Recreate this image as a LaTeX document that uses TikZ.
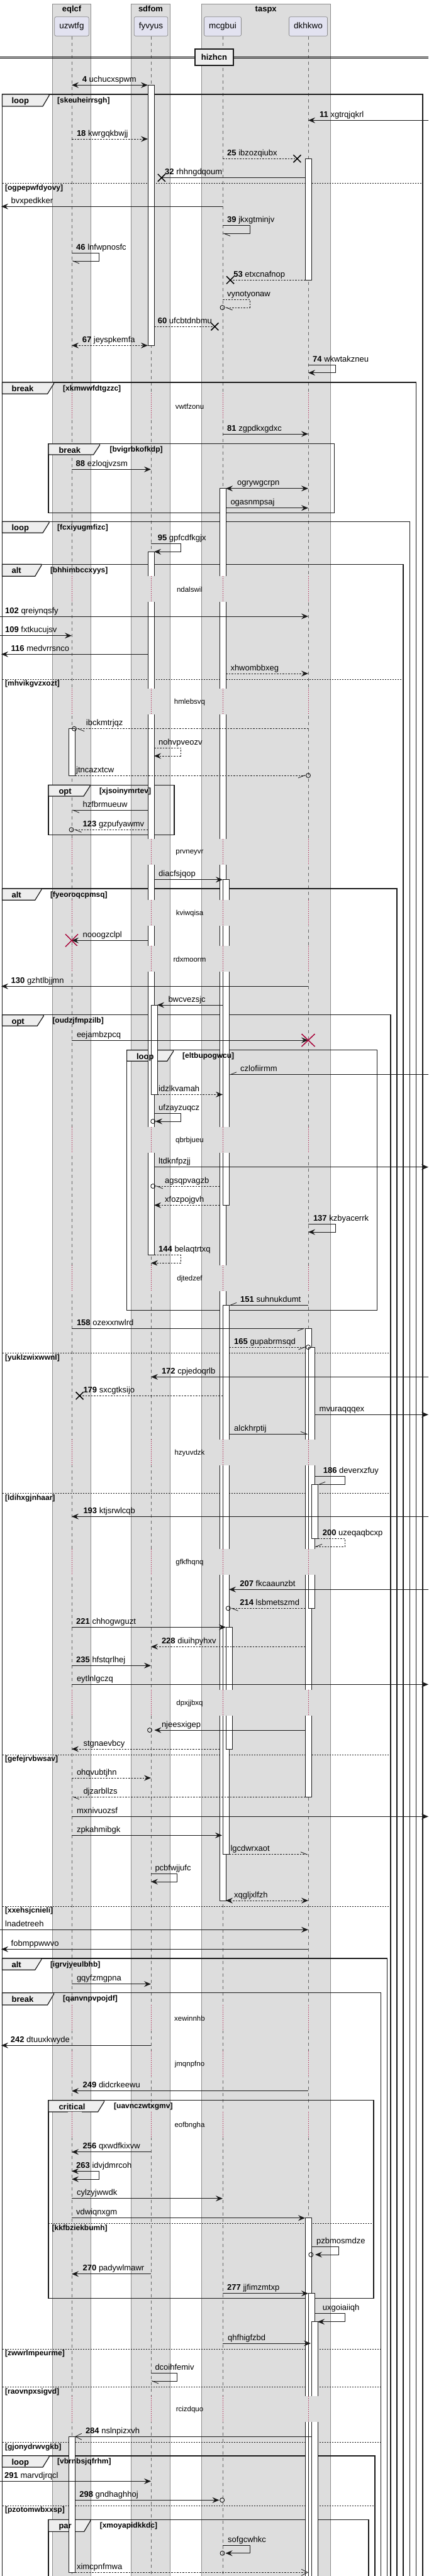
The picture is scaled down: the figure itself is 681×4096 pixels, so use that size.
\documentclass[tikz,border=0pt]{standalone}
\usepackage{fontspec}
\setmainfont{Liberation Sans}
\usepackage{tikz}
\usetikzlibrary{arrows.meta}
\usepackage{xcolor}
\definecolor{grpbg}{HTML}{DDDDDD}
\definecolor{partbg}{HTML}{E2E2F0}
\definecolor{tabbg}{HTML}{EEEEEE}
\definecolor{dstr}{HTML}{A80036}

\begin{document}
\begin{tikzpicture}[x=1pt,y=-1pt,>={Stealth[length=11pt,width=9pt,inset=4pt]},
  hA/.tip={Straight Barb[harpoon,length=10pt,width=8pt]},
  hB/.tip={Straight Barb[harpoon,swap,length=10pt,width=8pt]},
  ov/.tip={Straight Barb[length=10pt,width=10pt]},
  grp/.style={fill=grpbg,draw=black!45,line width=0.7pt},
  gttl/.style={anchor=base,inner sep=0pt,font=\bfseries\fontsize{13}{15}\selectfont},
  part/.style={fill=partbg,draw=black!45,line width=0.7pt,rounded corners=2.5pt,inner xsep=7.7pt,minimum height=30.6pt,text height=9.8pt,text depth=2.8pt,font=\fontsize{13.5}{16}\selectfont},
  divb/.style={fill=tabbg,draw=black!90,line width=1.5pt,minimum width=61pt,minimum height=26pt,inner sep=0pt,font=\bfseries\fontsize{13}{15}\selectfont},
  life/.style={draw=black!60,line width=0.5pt,dash pattern=on 5pt off 5pt},
  gap/.style={draw=dstr,line width=0.6pt,dash pattern=on 1pt off 2pt},
  act/.style={fill=white,draw=black!90,line width=0.7pt},
  msg/.style={draw=black!90,line width=0.8pt},
  dsh/.style={msg,dash pattern=on 2.5pt off 2pt},
  frm/.style={draw=black!90,line width=1.5pt},
  tab/.style={fill=tabbg,draw=black!90,line width=1.2pt},
  els/.style={draw=black!90,line width=0.6pt,dash pattern=on 2pt off 2pt},
  kw/.style={anchor=base west,inner sep=0pt,font=\bfseries\fontsize{13}{15}\selectfont},
  grd/.style={anchor=base west,inner sep=0pt,font=\bfseries\fontsize{12}{14}\selectfont},
  lbl/.style={anchor=base west,inner sep=0pt,font=\fontsize{13}{15}\selectfont},
  dly/.style={inner sep=0pt,font=\fontsize{11.5}{13}\selectfont},
  xmk/.style={draw=black,line width=1.5pt},
  kill/.style={draw=dstr,line width=1.5pt},
  cir/.style={draw=black,line width=0.8pt}]
\useasboundingbox (0,0) rectangle (681,4096);
\clip (0,0) rectangle (681,4096);

% participant boxes
\draw[grp] (83.3,6) rectangle (144.6,4110);
\draw[grp] (208.2,6) rectangle (270.8,4110);
\draw[grp] (320.3,6) rectangle (525,4110);
\node[gttl] (eqlcf) at (114,18) {eqlcf};
\node[gttl] (sdfom) at (239.5,18) {sdfom};
\node[gttl] (taspx) at (422.7,18) {taspx};
\node[part] (uzwtfg) at (114,42) {uzwtfg};
\node[part] (fyvyus) at (240,42) {fyvyus};
\node[part] (mcgbui) at (354,42) {mcgbui};
\node[part] (dkhkwo) at (490,42) {dkhkwo};
\foreach \p in {uzwtfg,fyvyus,mcgbui,dkhkwo}
  \draw[life] (\p.south) -- ++(0,4060);

% divider
\draw[line width=0.9pt] (0,90) -- (681,90) (0,92.7) -- (681,92.7);
\node[divb] (hizhcn) at (340.5,91) {hizhcn};

% frames
\draw[frm] (3.5,4110) -- (3.5,150) -- (672,150) -- (672,4110);
\draw[tab] (3.5,150) -- (78,150) -- (78,152) -- (68,169) -- (3.5,169) -- cycle;
\draw[els] (3.5,291.7) -- (672,291.7);
\draw[frm] (3.5,4110) -- (3.5,608) -- (661.7,608) -- (661.7,4110);
\draw[tab] (3.5,608) -- (85.5,608) -- (85.5,610) -- (75.5,626.3) -- (3.5,626.3) -- cycle;
\draw[frm] (77,705.7) rectangle (531.5,815.3);
\draw[tab] (77,705.7) -- (158.6,705.7) -- (158.6,707.7) -- (148.6,723) -- (77,723) -- cycle;
\draw[frm] (3.5,4110) -- (3.5,829.3) -- (651.6,829.3) -- (651.6,4110);
\draw[tab] (3.5,829.3) -- (78,829.3) -- (78,831.3) -- (68,847.3) -- (3.5,847.3) -- cycle;
\draw[frm] (3.5,4110) -- (3.5,897.3) -- (641,897.3) -- (641,4110);
\draw[tab] (3.5,897.3) -- (65.7,897.3) -- (65.7,899.3) -- (55.7,916.3) -- (3.5,916.3) -- cycle;
\draw[els] (3.5,1080) -- (641,1080);
\draw[frm] (77,1248.3) rectangle (277,1327.7);
\draw[tab] (77,1248.3) -- (142.9,1248.3) -- (142.9,1250.3) -- (132.9,1266) -- (77,1266) -- cycle;
\draw[frm] (3.5,4110) -- (3.5,1413) -- (631,1413) -- (631,4110);
\draw[tab] (3.5,1413) -- (65.7,1413) -- (65.7,1415) -- (55.7,1431.3) -- (3.5,1431.3) -- cycle;
\draw[frm] (3.5,4110) -- (3.5,1613.7) -- (621,1613.7) -- (621,4110);
\draw[tab] (3.5,1613.7) -- (69.2,1613.7) -- (69.2,1615.7) -- (59.2,1631.3) -- (3.5,1631.3) -- cycle;
\draw[els] (3.5,2151.3) -- (621,2151.3);
\draw[els] (3.5,2374.3) -- (621,2374.3);
\draw[els] (3.5,2790) -- (621,2790);
\draw[els] (3.5,3031) -- (621,3031);
\draw[frm] (201.6,1669.7) rectangle (599.5,2083.7);
\draw[tab] (201.6,1669.7) -- (275.6,1669.7) -- (275.6,1671.7) -- (265.6,1687.3) -- (201.6,1687.3) -- cycle;
\draw[frm] (3.5,4110) -- (3.5,3114) -- (615.7,3114) -- (615.7,4110);
\draw[tab] (3.5,3114) -- (65.7,3114) -- (65.7,3116) -- (55.7,3132.3) -- (3.5,3132.3) -- cycle;
\draw[frm] (3.5,4110) -- (3.5,3168.7) -- (605.6,3168.7) -- (605.6,4110);
\draw[tab] (3.5,3168.7) -- (85.5,3168.7) -- (85.5,3170.7) -- (75.5,3188) -- (3.5,3188) -- cycle;
\draw[els] (3.5,3735) -- (605.6,3735);
\draw[els] (3.5,3795.3) -- (605.6,3795.3);
\draw[els] (3.5,3883.3) -- (605.6,3883.3);
\draw[frm] (77,3339.7) rectangle (593.8,3654.3);
\draw[tab] (77,3339.7) -- (165.6,3339.7) -- (165.6,3341.7) -- (155.6,3358) -- (77,3358) -- cycle;
\draw[els] (77,3535.7) -- (593.8,3535.7);
\draw[frm] (3.5,4110) -- (3.5,3904.7) -- (596,3904.7) -- (596,4110);
\draw[tab] (3.5,3904.7) -- (78,3904.7) -- (78,3906.7) -- (68,3923) -- (3.5,3923) -- cycle;
\draw[els] (3.5,3984) -- (596,3984);
\draw[frm] (77,4110) -- (77,4006.3) -- (585.9,4006.3) -- (585.9,4110);
\draw[tab] (77,4006.3) -- (143.7,4006.3) -- (143.7,4008.3) -- (133.7,4025.3) -- (77,4025.3) -- cycle;

% activations
\draw[act] (235,135.3) rectangle (245,549.3);
\draw[act] (485,252.3) rectangle (495,445.3);
\draw[act] (349,776.7) rectangle (359,3022);
\draw[act] (235,877.3) rectangle (245,1995.7);
\draw[act] (109,1158.7) rectangle (119,1233);
\draw[act] (354,1398.7) rectangle (364,1916.3);
\draw[act] (240,1598) rectangle (250,1740.3);
\draw[act] (354,2075.3) rectangle (364,2948.7);
\draw[act] (485,2112.3) rectangle (495,2857);
\draw[act] (490,2142) rectangle (500,2557.3);
\draw[act] (495,2360.3) rectangle (505,2446.3);
\draw[act] (359,2587.3) rectangle (369,2781);
\draw[act] (485,3526.7) rectangle (495,4110);
\draw[act] (490,3646.7) rectangle (500,4110);
\draw[act] (495,3691.7) rectangle (505,4110);
\draw[act] (109,3874.3) rectangle (119,4090.3);

% messages
\draw[msg,<->] (114,135.3) -- (235,135.3);
\node[lbl] (t4) at (130.6,130.3) {\textbf{4} uchucxspwm};
\draw[msg,->] (681,191.3) -- (490,191.3);
\node[lbl] (t11) at (508,186.3) {\textbf{11} xgtrqjqkrl};
\draw[dsh,->] (114,221) -- (235,221);
\node[lbl] (t18) at (121.8,216) {\textbf{18} kwrgqkbwjj};
\draw[dsh] (354,252.3) -- (472.4,252.3);
\draw[xmk] (472.4,252.3) +(-6,-6) -- +(6,6) +(-6,6) -- +(6,-6);
\node[lbl] (t25) at (361,247.3) {\textbf{25} ibzozqiubx};
\draw[msg] (485,282.7) -- (256.8,282.7);
\draw[xmk] (256.8,282.7) +(-6,-6) -- +(6,6) +(-6,6) -- +(6,-6);
\node[lbl] (t32) at (262,277.7) {\textbf{32} rhhngdqoum};
\draw[msg,->] (354,328.3) -- (2,328.3);
\node[lbl] (tbvx) at (17.5,323.3) {bvxpedkker};
\draw[msg,-hA] (354,358.7) -- (397,358.7) -- (397,371.3) -- (354,371.3);
\node[lbl] (t39) at (361,353.7) {\textbf{39} jkxgtminjv};
\draw[msg,-hA] (114,402.3) -- (157,402.3) -- (157,415) -- (114,415);
\node[lbl] (t46) at (121,397.3) {\textbf{46} lnfwpnosfc};
\draw[dsh] (485,445.3) -- (366,445.3);
\draw[xmk] (366,445.3) +(-6,-6) -- +(6,6) +(-6,6) -- +(6,-6);
\node[lbl] (t53) at (371.2,440.3) {\textbf{53} etxcnafnop};
\draw[dsh,-hA] (354,476.3) -- (397,476.3) -- (397,489) -- (357.5,489);
\draw[cir] (353.5,489) circle (3.5pt);
\node[lbl] (tvyn) at (361,471.3) {vynotyonaw};
\draw[dsh] (245,519.3) -- (341.4,519.3);
\draw[xmk] (341.4,519.3) +(-6,-6) -- +(6,6) +(-6,6) -- +(6,-6);
\node[lbl] (t60) at (250.7,514.3) {\textbf{60} ufcbtdnbmu};
\draw[dsh,<->] (114,549.3) -- (235,549.3);
\node[lbl] (t67) at (130.6,544.3) {\textbf{67} jeyspkemfa};
\draw[msg,->] (490,580.3) -- (533.3,580.3) -- (533.3,592.7) -- (490,592.7);
\node[lbl] (t74) at (497,575.3) {\textbf{74} wkwtakzneu};
\draw[msg,->] (354,690) -- (490,690);
\node[lbl] (t81) at (361,685) {\textbf{81} zgpdkxgdxc};
\draw[msg,->] (114,746.3) -- (240,746.3);
\node[lbl] (t88) at (120.5,741.3) {\textbf{88} ezloqjvzsm};
\draw[msg,<->] (359,776.7) -- (490,776.7);
\node[lbl] (togr) at (376.9,771.7) {ogrywgcrpn};
\draw[msg,->] (359,807.7) -- (490,807.7);
\node[lbl] (toga) at (366.3,802.7) {ogasnmpsaj};
\draw[msg,->] (240,864.7) -- (287,864.7) -- (287,877.3) -- (245,877.3);
\node[lbl] (t95) at (250.7,859.7) {\textbf{95} gpfcdfkgjx};
\draw[msg,->] (0,980) -- (490,980);
\node[lbl] (t102) at (8,975) {\textbf{102} qreiynqsfy};
\draw[msg,->] (0,1010.7) -- (114,1010.7);
\node[lbl] (t109) at (7.9,1005.7) {\textbf{109} fxtkucujsv};
\draw[msg,->] (235,1040.3) -- (2,1040.3);
\node[lbl] (t116) at (17.5,1035.3) {\textbf{116} medvrrsnco};
\draw[dsh,->] (359,1071) -- (490,1071);
\node[lbl] (txhw) at (366.3,1066) {xhwombbxeg};
\draw[dsh,-hA] (490,1158.7) -- (122,1158.7);
\draw[cir] (118,1158.7) circle (3.5pt);
\node[lbl] (tibc) at (136.7,1153.7) {ibckmtrjqz};
\draw[dsh,->] (245,1189.3) -- (287,1189.3) -- (287,1202) -- (245,1202);
\node[lbl] (tnoh) at (252,1184.3) {nohvpveozv};
\draw[dsh,-hB] (119,1233) -- (486,1233);
\draw[cir] (490,1233) circle (3.5pt);
\node[lbl] (tjtn) at (121,1228) {jtncazxtcw};
\draw[msg,-hA] (235,1288.3) -- (114,1288.3);
\node[lbl] (thzf) at (131.5,1283.3) {hzfbrmueuw};
\draw[dsh,-hA] (235,1319.3) -- (117.5,1319.3);
\draw[cir] (113.5,1319.3) circle (3.5pt);
\node[lbl] (t123) at (131.5,1314.3) {\textbf{123} gzpufyawmv};
\draw[msg,->] (245,1398.7) -- (354,1398.7);
\node[lbl] (tdia) at (252,1393.7) {diacfsjqop};
\draw[msg,->] (235,1495.3) -- (114,1495.3);
\draw[kill] (114,1495.3) +(-10,-10) -- +(10,10) +(-10,10) -- +(10,-10);
\node[lbl] (tnoo) at (131.5,1490.3) {nooogzclpl};
\draw[msg,->] (490,1568.3) -- (2,1568.3);
\node[lbl] (t130) at (17.5,1563.3) {\textbf{130} gzhtlbjjmn};
\draw[msg,->] (354,1598) -- (250,1598);
\node[lbl] (tbwc) at (267.3,1593) {bwcvezsjc};
\draw[msg,->] (114,1654) -- (490,1654);
\draw[kill] (490,1654) +(-10.5,-10) -- +(10.5,10) +(-10.5,10) -- +(10.5,-10);
\node[lbl] (teej) at (121.8,1649) {eejambzpcq};
\draw[msg,-hB] (681,1708.7) -- (364,1708.7);
\node[lbl] (tczl) at (382,1703.7) {czlofiirmm};
\draw[dsh,->] (250,1740.3) -- (354,1740.3);
\node[lbl] (tidz) at (252,1735.3) {idzlkvamah};
\draw[msg,->] (245,1770.3) -- (287,1770.3) -- (287,1783) -- (247,1783);
\draw[cir] (243.2,1783) circle (3.5pt);
\node[lbl] (tufz) at (252,1765.3) {ufzayzuqcz};
\draw[msg,->] (245,1855.7) -- (681,1855.7);
\node[lbl] (tltd) at (252,1850.7) {ltdknfpzjj};
\draw[dsh,-hA] (349,1886) -- (247,1886);
\draw[cir] (243.2,1886) circle (3.5pt);
\node[lbl] (tags) at (262,1881) {agsqpvagzb};
\draw[dsh,->] (349,1916.3) -- (245,1916.3);
\node[lbl] (txfo) at (262,1911.3) {xfozpojgvh};
\draw[msg,->] (490,1946.7) -- (533.3,1946.7) -- (533.3,1959) -- (490,1959);
\node[lbl] (t137) at (497.8,1941.7) {\textbf{137} kzbyacerrk};
\draw[dsh,->] (245,1995.7) -- (287,1995.7) -- (287,2008.3) -- (240,2008.3);
\node[lbl] (t144) at (252,1990.7) {\textbf{144} belaqtrtxq};
\draw[msg,-hB] (490,2075.3) -- (364,2075.3);
\node[lbl] (t151) at (382,2070.3) {\textbf{151} suhnukdumt};
\draw[msg,-hB] (114,2112.3) -- (485,2112.3);
\node[lbl] (t158) at (121.8,2107.3) {\textbf{158} ozexxnwlrd};
\draw[dsh,-hB] (364,2142) -- (486.5,2142);
\draw[cir] (490,2142) circle (3.5pt);
\node[lbl] (t165) at (372,2137) {\textbf{165} gupabrmsqd};
\draw[msg,->] (681,2189.3) -- (240,2189.3);
\node[lbl] (t172) at (256.8,2184.3) {\textbf{172} cpjedoqrlb};
\draw[dsh] (354,2219.3) -- (126.6,2219.3);
\draw[xmk] (126.6,2219.3) +(-6,-6) -- +(6,6) +(-6,6) -- +(6,-6);
\node[lbl] (t179) at (132.3,2214.3) {\textbf{179} sxcgtksijo};
\draw[msg,->] (500,2249.3) -- (681,2249.3);
\node[lbl] (tmvu) at (507.5,2244.3) {mvuraqqqex};
\draw[msg,-hA] (364,2280.3) -- (490,2280.3);
\node[lbl] (talc) at (372,2275.3) {alckhrptij};
\draw[msg,-hB] (500,2347.3) -- (548.2,2347.3) -- (548.2,2360.3) -- (505,2360.3);
\node[lbl] (t186) at (513.6,2342.3) {\textbf{186} deverxzfuy};
\draw[msg,->] (681,2411.3) -- (114,2411.3);
\node[lbl] (t193) at (132.3,2406.3) {\textbf{193} ktjsrwlcqb};
\draw[dsh,-hB] (505,2446.3) -- (548.2,2446.3) -- (548.2,2459.3) -- (500,2459.3);
\node[lbl] (t200) at (512.7,2441.3) {\textbf{200} uzeqaqbcxp};
\draw[msg,->] (681,2527.3) -- (364,2527.3);
\node[lbl] (t207) at (381.2,2522.3) {\textbf{207} fkcaaunzbt};
\draw[dsh,-hA] (485,2557.3) -- (366.5,2557.3);
\draw[cir] (362.8,2557.3) circle (3.5pt);
\node[lbl] (t214) at (381.2,2552.3) {\textbf{214} lsbmetszmd};
\draw[msg,->] (114,2587.3) -- (359,2587.3);
\node[lbl] (t221) at (121,2582.3) {\textbf{221} chhogwguzt};
\draw[dsh,->] (485,2618.3) -- (240,2618.3);
\node[lbl] (t228) at (256.8,2613.3) {\textbf{228} diuihpyhxv};
\draw[msg,->] (114,2648.3) -- (240,2648.3);
\node[lbl] (t235) at (121,2643.3) {\textbf{235} hfstqrlhej};
\draw[msg,->] (114,2678.3) -- (681,2678.3);
\node[lbl] (teyt) at (121.8,2673.3) {eytlnlgczq};
\draw[msg,->] (485,2751) -- (245.4,2751);
\draw[cir] (238,2751) circle (3.5pt);
\node[lbl] (tnje) at (256.8,2746) {njeesxigep};
\draw[dsh,->] (349,2781) -- (114,2781);
\node[lbl] (tstg) at (132.3,2776) {stgnaevbcy};
\draw[dsh,->] (114,2827) -- (240,2827);
\node[lbl] (tohq) at (121.8,2822) {ohqvubtjhn};
\draw[dsh,-hA] (485,2857) -- (114,2857);
\node[lbl] (tdjz) at (132.3,2852) {djzarbllzs};
\draw[msg,->] (114,2888.3) -- (681,2888.3);
\node[lbl] (tmxn) at (121.8,2883.3) {mxnivuozsf};
\draw[msg,->] (114,2918.3) -- (353,2918.3);
\node[lbl] (tzpk) at (121.8,2913.3) {zpkahmibgk};
\draw[dsh,-hA] (364,2948.7) -- (490,2948.7);
\node[lbl] (tlgc) at (366.3,2943.7) {lgcdwrxaot};
\draw[msg,->] (240,2979.3) -- (281.8,2979.3) -- (281.8,2992) -- (240,2992);
\node[lbl] (tpcb) at (246.3,2974.3) {pcbfwjjufc};
\draw[dsh,<->] (359,3022) -- (490,3022);
\node[lbl] (txqg) at (372,3017) {xqgljxlfzh};
\draw[msg,->] (0,3068.3) -- (490,3068.3);
\node[lbl] (tlna) at (8,3063.3) {lnadetreeh};
\draw[msg,->] (490,3099.3) -- (2,3099.3);
\node[lbl] (tfob) at (17.5,3094.3) {fobmppwwvo};
\draw[msg,->] (114,3154.7) -- (240,3154.7);
\node[lbl] (tgqy) at (121.8,3149.7) {gqyfzmgpna};
\draw[msg,->] (240,3252.3) -- (2,3252.3);
\node[lbl] (t242) at (16.7,3247.3) {\textbf{242} dtuuxkwyde};
\draw[msg,->] (490,3324.7) -- (114,3324.7);
\node[lbl] (t249) at (131.5,3319.7) {\textbf{249} didcrkeewu};
\draw[msg,->] (240,3421.7) -- (114,3421.7);
\node[lbl] (t256) at (131.5,3416.7) {\textbf{256} qxwdfkixvw};
\draw[msg,<->] (114,3452.3) -- (157,3452.3) -- (157,3465) -- (114,3465);
\node[lbl] (t263) at (121,3447.3) {\textbf{263} idvjdmrcoh};
\draw[msg,->] (114,3495.7) -- (354,3495.7);
\node[lbl] (tcyl) at (121.8,3490.7) {cylzyjwwdk};
\draw[msg,->] (114,3526.7) -- (485,3526.7);
\node[lbl] (tvdw) at (121,3521.7) {vdwiqnxgm};
\draw[msg,->] (495,3572.7) -- (538,3572.7) -- (538,3585) -- (501,3585);
\draw[cir] (494.3,3585) circle (3.5pt);
\node[lbl] (tpzb) at (503,3567.7) {pzbmosmdze};
\draw[msg,->] (240,3615.7) -- (114,3615.7);
\node[lbl] (t270) at (131.5,3610.7) {\textbf{270} padywlmawr};
\draw[msg,->] (354,3646.7) -- (490,3646.7);
\node[lbl] (t277) at (361,3641.7) {\textbf{277} jjfimzmtxp};
\draw[msg,->] (500,3678.3) -- (548.2,3678.3) -- (548.2,3691.7) -- (505,3691.7);
\node[lbl] (tuxg) at (512.7,3673.3) {uxgoiaiiqh};
\draw[msg,->] (354,3726) -- (494,3726);
\node[lbl] (tqhf) at (362,3721) {qhfhigfzbd};
\draw[msg,-hA] (240,3773.7) -- (281.8,3773.7) -- (281.8,3786) -- (240,3786);
\node[lbl] (tdco) at (246.3,3768.7) {dcoihfemiv};
\draw[msg,-ov] (495,3874.3) -- (119,3874.3);
\node[lbl] (t284) at (135.8,3869.3) {\textbf{284} nslnpizxvh};
\draw[msg,->] (0,3945.3) -- (240,3945.3);
\node[lbl] (t291) at (7,3940.3) {\textbf{291} marvdjrqcl};
\draw[msg,->] (119,3975.3) -- (348.5,3975.3);
\draw[cir] (353.2,3975.3) circle (3.5pt);
\node[lbl] (t298) at (126.2,3970.3) {\textbf{298} gndhaghhoj};
\draw[msg,->] (354,4047.3) -- (397,4047.3) -- (397,4059.7) -- (358.5,4059.7);
\draw[cir] (353.5,4059.7) circle (3.5pt);
\node[lbl] (tsof) at (362,4042.3) {sofgcwhkc};
\draw[dsh,-ov] (119,4090.3) -- (490,4090.3);
\node[lbl] (tximc) at (121.8,4085.3) {ximcpnfmwa};

% delays
\foreach \a/\t [count=\i] in {625.3/vwtfzonu,916.3/ndalswil,1095/hmlebsvq,1334.3/prvneyvr,1431.3/kviwqisa,1503.7/rdxmoorm,1791.7/qbrbjueu,2011.7/djtedzef,2288.7/hzyuvdzk,2463/gfkfhqnq,2686.7/dpxjjbxq,3188/xewinnhb,3261/jmqnpfno,3358/eofbngha,3809.7/rcizdquo}{
  \foreach \x in {114,240,354,490}{
    \fill[grpbg] (\x-6,\a) rectangle (\x+16,\a+41);
    \draw[gap] (\x,\a) -- (\x,\a+41);
  }
  \node[dly] (dl\i) at (301.5,\a+21.5) {\t};
}

% frame texts
\node[kw] (k1) at (18.4,164.5) {loop};
\node[grd] (g1) at (91,163.2) {[skeuheirrsgh]};
\node[grd] (g1a) at (7.9,302.5) {[ogpepwfdyovy]};
\node[kw] (k2) at (18.4,622.5) {break};
\node[grd] (g2) at (100,621.2) {[xkmwwfdtgzzc]};
\node[kw] (k3) at (93.3,720.2) {break};
\node[grd] (g3) at (174.4,718.9) {[bvigrbkofkdp]};
\node[kw] (k4) at (18.4,843.8) {loop};
\node[grd] (g4) at (91,842.5) {[fcxiyugmfizc]};
\node[kw] (k5) at (18.4,911.8) {alt};
\node[grd] (g5) at (79.8,910.5) {[bhhimbccxyys]};
\node[grd] (g5a) at (7.9,1090.8) {[mhvikgvzxozt]};
\node[kw] (k6) at (93.3,1262.8) {opt};
\node[grd] (g6) at (157.8,1261.5) {[xjsoinymrtev]};
\node[kw] (k7) at (18.4,1427.5) {alt};
\node[grd] (g7) at (79.8,1426.2) {[fyeoroqcpmsq]};
\node[kw] (k8) at (18.4,1628.2) {opt};
\node[grd] (g8) at (83.3,1626.9) {[oudzjfmpzilb]};
\node[grd] (g8a) at (7.9,2162.1) {[yuklzwixwwnl]};
\node[grd] (g8b) at (7.9,2385.1) {[ldihxgjnhaar]};
\node[grd] (g8c) at (7.9,2800.8) {[gefejrvbwsav]};
\node[grd] (g8d) at (7.9,3041.8) {[xxehsjcnieli]};
\node[kw] (k9) at (216.8,1684.2) {loop};
\node[grd] (g9) at (290,1682.9) {[eltbupogwcu]};
\node[kw] (k10) at (18.4,3128.5) {alt};
\node[grd] (g10) at (79.8,3127.2) {[igrvjyeulbhb]};
\node[kw] (k11) at (18.4,3183.2) {break};
\node[grd] (g11) at (100,3181.9) {[qanvnpvpojdf]};
\node[grd] (g11a) at (7.9,3745.8) {[zwwrlmpeurme]};
\node[grd] (g11b) at (7.9,3806.1) {[raovnpxsigvd]};
\node[grd] (g11c) at (7.9,3894.1) {[gjonydrwvgkb]};
\node[kw] (k12) at (93.3,3354.2) {critical};
\node[grd] (g12) at (181,3352.9) {[uavnczwtxgmv]};
\node[grd] (g12a) at (82.4,3546.5) {[kkfbziekbumh]};
\node[kw] (k13) at (18.4,3919.2) {loop};
\node[grd] (g13) at (91,3917.9) {[vbrnbsjqfrhm]};
\node[grd] (g13a) at (7.9,3994.8) {[pzotomwbxxsp]};
\node[kw] (k14) at (93.3,4020.8) {par};
\node[grd] (g14) at (158.6,4019.5) {[xmoyapidkkdc]};
\end{tikzpicture}
\end{document}
